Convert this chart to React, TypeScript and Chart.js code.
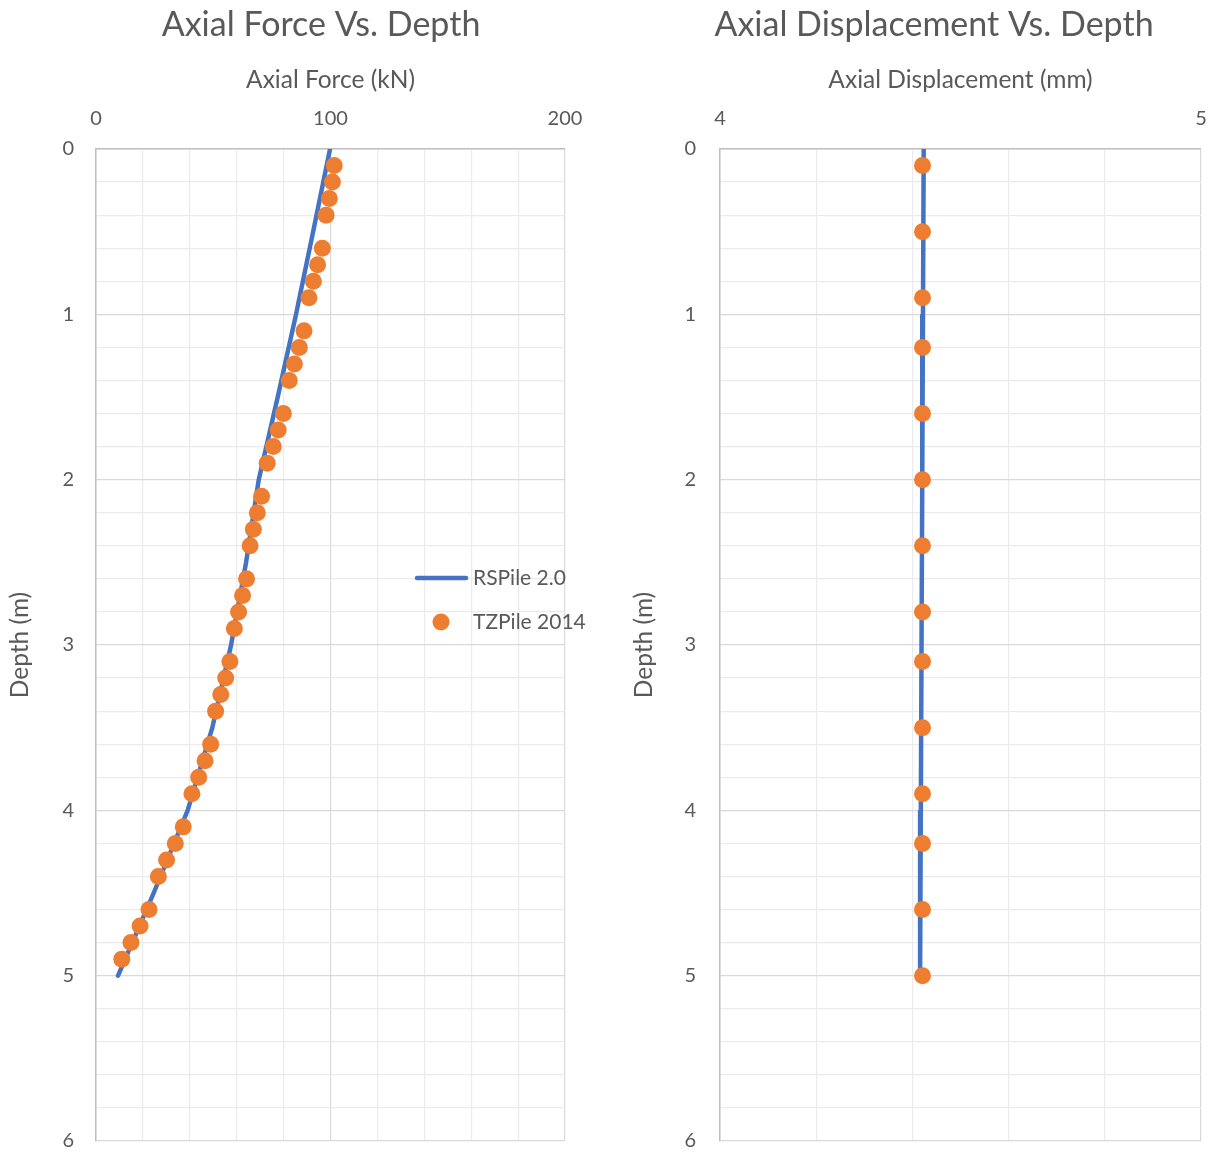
import React, { useEffect, useRef } from "react";
import { Chart, registerables } from "chart.js";
Chart.register(...registerables);

const FONT = "Lato, 'Open Sans', sans-serif";
const TEXT = "#595959";

// RSPile 2.0 – axial force line
const rsForceDepth = [0, 0.5, 1, 1.5, 2, 2.5, 3, 3.5, 4, 4.5, 5];
const rsForce = [99.8, 92.6, 85.3, 77.5, 69.4, 64.0, 57.6, 49.6, 39.1, 24.6, 9.4];
// TZPile 2014 – axial force points
const tzForceDepth = [0.1, 0.2, 0.3, 0.4, 0.6, 0.7, 0.8, 0.9, 1.1, 1.2, 1.3, 1.4, 1.6, 1.7, 1.8, 1.9, 2.1, 2.2, 2.3, 2.4, 2.6, 2.7, 2.8, 2.9, 3.1, 3.2, 3.3, 3.4, 3.6, 3.7, 3.8, 3.9, 4.1, 4.2, 4.3, 4.4, 4.6, 4.7, 4.8, 4.9];
const tzForce = [101.6, 100.8, 99.5, 98.1, 96.5, 94.5, 92.7, 90.8, 88.7, 86.7, 84.6, 82.4, 79.9, 77.7, 75.6, 73.0, 70.6, 68.8, 67.1, 65.7, 64.2, 62.5, 60.8, 59.0, 57.1, 55.3, 53.2, 51.0, 48.9, 46.5, 43.8, 40.9, 37.2, 33.8, 30.1, 26.6, 22.6, 18.8, 14.9, 11.0];
// RSPile 2.0 – axial displacement line
const rsDispDepth = [0, 1, 2, 3, 4, 5];
const rsDisp = [4.4235, 4.422, 4.4205, 4.419, 4.4175, 4.416];
// TZPile 2014 – axial displacement points
const tzDispDepth = [0.1, 0.5, 0.9, 1.2, 1.6, 2.0, 2.4, 2.8, 3.1, 3.5, 3.9, 4.2, 4.6, 5.0];
const tzDisp = [4.421, 4.421, 4.421, 4.421, 4.421, 4.421, 4.421, 4.421, 4.421, 4.421, 4.421, 4.421, 4.421, 4.421];

const forceTickLabels = [0, 100, 200];
const dispTickLabels = [4, 5];
const depthTickLabels = [0, 1, 2, 3, 4, 5, 6];
const seriesNames = ["RSPile 2.0", "TZPile 2014"];

const isIn = (list: number[], v: number) => list.some((t) => Math.abs(t - v) < 1e-6);

function makeConfig(o: any) {
  const titlePlugin = {
    id: "mainTitle",
    afterDraw(chart: any) {
      const ctx = chart.ctx;
      ctx.save();
      ctx.fillStyle = TEXT;
      ctx.font = `34px ${FONT}`;
      ctx.textAlign = "center";
      ctx.textBaseline = "middle";
      ctx.fillText(o.title, o.titleX, 25);
      ctx.restore();
    },
  };
  const legendPlugin = {
    id: "innerLegend",
    afterDraw(chart: any) {
      if (!o.legend) return;
      const ctx = chart.ctx;
      const ds = chart.data.datasets;
      ctx.save();
      ctx.font = `21px ${FONT}`;
      ctx.fillStyle = TEXT;
      ctx.textAlign = "left";
      ctx.textBaseline = "middle";
      ctx.strokeStyle = ds[1].borderColor;
      ctx.lineWidth = 4.5;
      ctx.lineCap = "round";
      ctx.beginPath();
      ctx.moveTo(417, 578);
      ctx.lineTo(466, 578);
      ctx.stroke();
      ctx.fillText(ds[1].label, 473, 578);
      ctx.fillStyle = ds[0].backgroundColor;
      ctx.beginPath();
      ctx.arc(441, 622, 8.5, 0, Math.PI * 2);
      ctx.fill();
      ctx.fillStyle = TEXT;
      ctx.fillText(ds[0].label, 473, 622);
      ctx.restore();
    },
  };
  const gridColor = (labels: number[]) => (c: any) =>
    c.tick && isIn(labels, c.tick.value) ? "#d9d9d9" : "#ebebeb";
  return {
    type: "scatter",
    data: {
      datasets: [
        {
          label: seriesNames[1],
          data: o.dotX.map((x: number, i: number) => ({ x, y: o.dotY[i] })),
          backgroundColor: "#ED7D31",
          borderWidth: 0,
          pointRadius: 8.5,
          pointHoverRadius: 8.5,
          order: 1,
        },
        {
          label: seriesNames[0],
          data: o.lineX.map((x: number, i: number) => ({ x, y: o.lineY[i] })),
          borderColor: "#4472C4",
          backgroundColor: "#4472C4",
          showLine: true,
          borderWidth: 4.5,
          borderCapStyle: "round",
          pointRadius: 0,
          pointHoverRadius: 0,
          order: 2,
        },
      ],
    },
    options: {
      responsive: false,
      animation: false,
      layout: { padding: { left: 0, top: 0, right: o.padRight, bottom: 11 } },
      plugins: { legend: { display: false }, title: { display: false }, tooltip: { enabled: false } },
      scales: {
        x: {
          type: "linear",
          position: "top",
          min: o.xMin,
          max: o.xMax,
          afterFit: (s: any) => {
            s.height = 149;
            s.paddingLeft = 0;
            s.paddingRight = 0;
          },
          ticks: {
            stepSize: o.xStep,
            autoSkip: false,
            maxRotation: 0,
            padding: 18,
            color: TEXT,
            font: { family: FONT, size: 20 },
            callback: (v: number) => (isIn(o.xLabels, v) ? String(Math.round(v)) : ""),
          },
          grid: { color: gridColor(o.xLabels), drawTicks: false, lineWidth: 1.2 },
          border: { color: "#bfbfbf", width: 1.5 },
          title: {
            display: true,
            text: o.xTitle,
            color: TEXT,
            font: { family: FONT, size: 24.5 },
            padding: { top: 65, bottom: 0 },
          },
        },
        y: {
          type: "linear",
          reverse: true,
          min: 0,
          max: 6,
          afterFit: (s: any) => {
            s.width = o.yWidth;
            s.paddingTop = 0;
            s.paddingBottom = 0;
          },
          ticks: {
            stepSize: 0.2,
            autoSkip: false,
            padding: o.yTickPad,
            color: TEXT,
            font: { family: FONT, size: 20 },
            callback: (v: number) => (isIn(depthTickLabels, v) ? String(Math.round(v)) : ""),
          },
          grid: { color: gridColor(depthTickLabels), drawTicks: false, lineWidth: 1.2 },
          border: { color: "#bfbfbf", width: 1.5 },
          title: {
            display: true,
            text: "Depth (m)",
            color: TEXT,
            font: { family: FONT, size: 24.5 },
            padding: { top: o.yTitlePad, bottom: 0 },
          },
        },
      },
    },
    plugins: [titlePlugin, legendPlugin],
  };
}

function ChartCanvas(props: { cfg: any; left: number; width: number }) {
  const ref = useRef<HTMLCanvasElement>(null);
  useEffect(() => {
    if (!ref.current) return;
    const chart = new Chart(ref.current, props.cfg);
    return () => chart.destroy();
  }, []);
  return (
    <canvas
      ref={ref}
      width={props.width}
      height={1152}
      style={{ position: "absolute", left: props.left, top: 0, width: props.width, height: 1152 }}
    />
  );
}

export default function App() {
  const forceCfg = makeConfig({
    title: "Axial Force Vs. Depth",
    titleX: 321,
    xTitle: "Axial Force (kN)",
    xMin: 0,
    xMax: 200,
    xStep: 20,
    xLabels: forceTickLabels,
    lineX: rsForce,
    lineY: rsForceDepth,
    dotX: tzForce,
    dotY: tzForceDepth,
    yWidth: 96,
    yTickPad: 22,
    yTitlePad: 5,
    padRight: 45,
    legend: true,
  });
  const dispCfg = makeConfig({
    title: "Axial Displacement Vs. Depth",
    titleX: 934 - 610,
    xTitle: "Axial Displacement (mm)",
    xMin: 4,
    xMax: 5,
    xStep: 0.2,
    xLabels: dispTickLabels,
    lineX: rsDisp,
    lineY: rsDispDepth,
    dotX: tzDisp,
    dotY: tzDispDepth,
    yWidth: 110,
    yTickPad: 24,
    yTitlePad: 19,
    padRight: 14,
    legend: false,
  });
  return (
    <div style={{ position: "absolute", left: 0, top: 0, width: 1215, height: 1152, background: "#fff", overflow: "hidden" }}>
      <ChartCanvas cfg={forceCfg} left={0} width={610} />
      <ChartCanvas cfg={dispCfg} left={610} width={605} />
    </div>
  );
}
